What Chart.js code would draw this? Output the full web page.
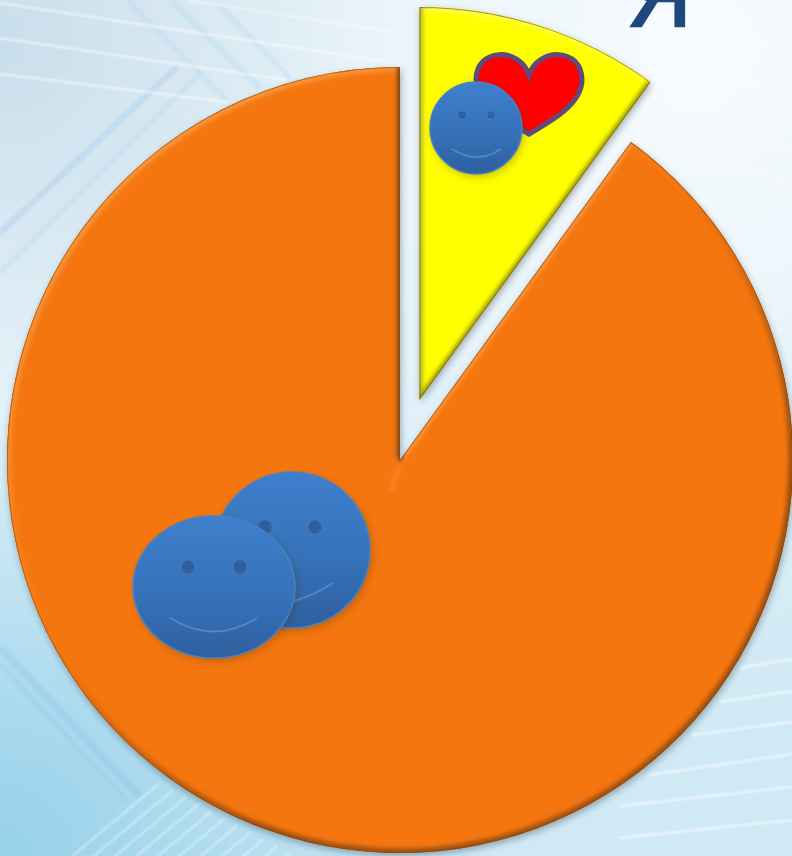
<!DOCTYPE html>
<html>
<head>
<meta charset="utf-8">
<style>
  html, body { margin: 0; padding: 0; background: #e4f1f8; }
  #wrap { width: 792px; height: 856px; }
</style>
<script src="https://cdn.jsdelivr.net/npm/chart.js@4/dist/chart.umd.min.js"></script>
</head>
<body>
<div id="wrap"><canvas id="pieChart" width="792" height="856"></canvas></div>
<script>
const categories = ['Я', 'Другие'];
const shares = [10, 90];
const sliceColors = ['#ffff00', '#f5760f'];
const sliceOffsets = [252, 0]; // Chart.js moves an arc by offset / 4
const startEdges = ['#a8a83a', '#fb9a44'];
const endEdges = ['#8f8f10', '#7e4414'];
const rimTop = ['#ffff70', '#fba24c'];
const rimBottom = ['#9a9a10', '#9a4f12'];
const pieRadius = 393;

function line(ctx, x1, y1, x2, y2, color, width) {
  ctx.strokeStyle = color;
  ctx.lineWidth = width;
  ctx.beginPath();
  ctx.moveTo(x1, y1);
  ctx.lineTo(x2, y2);
  ctx.stroke();
}

function drawBackdrop(ctx) {
  const bg = ctx.createLinearGradient(0, 0, 200, 856);
  bg.addColorStop(0, '#e6f1f8');
  bg.addColorStop(0.5, '#e4f2f9');
  bg.addColorStop(1, '#cfe9f5');
  ctx.fillStyle = bg;
  ctx.fillRect(0, 0, 792, 856);

  const topRight = ctx.createRadialGradient(700, 50, 20, 700, 50, 420);
  topRight.addColorStop(0, 'rgba(246,251,254,1)');
  topRight.addColorStop(1, 'rgba(246,251,254,0)');
  ctx.fillStyle = topRight;
  ctx.fillRect(0, 0, 792, 856);

  const corner = ctx.createRadialGradient(0, 40, 10, 0, 40, 360);
  corner.addColorStop(0, 'rgba(200,222,235,0.95)');
  corner.addColorStop(1, 'rgba(200,222,235,0)');
  ctx.fillStyle = corner;
  ctx.fillRect(0, 0, 400, 420);

  const lowLeft = ctx.createRadialGradient(0, 856, 20, 0, 856, 460);
  lowLeft.addColorStop(0, 'rgba(152,210,234,1)');
  lowLeft.addColorStop(1, 'rgba(152,210,234,0)');
  ctx.fillStyle = lowLeft;
  ctx.fillRect(0, 400, 500, 456);

  ctx.save();
  ctx.filter = 'blur(1px)';
  const band = 'rgba(170,215,240,0.3)';
  line(ctx, 0, 233, 177, 67, 'rgba(165,205,238,0.4)', 6);
  line(ctx, 0, 273, 200, 73, band, 5);
  line(ctx, 127, 0, 227, 100, band, 4);
  line(ctx, 170, 0, 260, 88, band, 6);
  line(ctx, 217, 3, 290, 78, band, 5);
  line(ctx, 0, 647, 140, 797, 'rgba(135,190,232,0.28)', 8);
  line(ctx, 0, 664, 128, 802, 'rgba(135,190,232,0.2)', 5);

  // white streaks top left
  const white = 'rgba(255,255,255,0.65)';
  line(ctx, 0, 3, 390, 62, white, 1.8);
  line(ctx, 187, 0, 400, 33, 'rgba(255,255,255,0.5)', 1.8);
  line(ctx, 0, 38, 287, 80, white, 1.8);
  line(ctx, 0, 74, 227, 102, white, 1.8);

  // streaks on the right side
  const soft = 'rgba(255,255,255,0.4)';
  line(ctx, 650, 20, 792, 48, soft, 2);
  line(ctx, 660, 62, 792, 92, soft, 2);
  line(ctx, 665, 102, 792, 125, soft, 2);
  line(ctx, 670, 132, 792, 152, soft, 2);
  line(ctx, 690, 165, 792, 180, soft, 2);
  const solid = 'rgba(255,255,255,0.75)';
  line(ctx, 740, 668, 792, 659, solid, 1.8);
  line(ctx, 720, 702, 792, 691, solid, 1.8);
  line(ctx, 692, 735, 792, 722, solid, 1.8);
  line(ctx, 650, 775, 792, 754, solid, 1.8);
  line(ctx, 620, 806, 792, 787, solid, 1.8);
  line(ctx, 620, 838, 792, 820, solid, 1.8);

  // mesh at the bottom
  ctx.strokeStyle = 'rgba(255,255,255,0.7)';
  ctx.lineWidth = 1.3;
  for (let i = 0; i < 22; i++) {
    const startX = 160 + i * 13;
    const startY = 783 + i * 7;
    ctx.beginPath();
    ctx.moveTo(startX, startY);
    ctx.lineTo(startX - 96, startY + 80);
    ctx.stroke();
  }
  ctx.restore();
}

function arcPoints(arc, i) {
  const mid = (arc.startAngle + arc.endAngle) / 2;
  const shift = sliceOffsets[i] / 4;
  return { x: arc.x + Math.cos(mid) * shift, y: arc.y + Math.sin(mid) * shift };
}

function arcPath(ctx, arc, i) {
  const p = arcPoints(arc, i);
  ctx.beginPath();
  ctx.moveTo(p.x, p.y);
  ctx.arc(p.x, p.y, pieRadius, arc.startAngle, arc.endAngle);
  ctx.closePath();
}

function drawBevel(ctx, arc, i) {
  const p = arcPoints(arc, i);
  ctx.save();
  arcPath(ctx, arc, i);
  ctx.clip();

  // curved rim, light above and dark below
  const rim = ctx.createLinearGradient(100, 60, 620, 800);
  rim.addColorStop(0, rimTop[i]);
  rim.addColorStop(0.5, sliceColors[i]);
  rim.addColorStop(0.8, rimBottom[i]);
  ctx.filter = 'blur(2px)';
  ctx.strokeStyle = rim;
  ctx.lineWidth = 9;
  ctx.beginPath();
  ctx.arc(p.x, p.y, pieRadius, arc.startAngle, arc.endAngle);
  ctx.stroke();

  // the two straight sides
  line(ctx, p.x, p.y, p.x + Math.cos(arc.startAngle) * pieRadius, p.y + Math.sin(arc.startAngle) * pieRadius, startEdges[i], 6);
  line(ctx, p.x, p.y, p.x + Math.cos(arc.endAngle) * pieRadius, p.y + Math.sin(arc.endAngle) * pieRadius, endEdges[i], 6);

  ctx.filter = 'blur(0.6px)';
  ctx.strokeStyle = 'rgba(110,70,20,0.6)';
  ctx.lineWidth = 1.6;
  arcPath(ctx, arc, i);
  ctx.stroke();
  ctx.restore();
}

function drawFace(ctx, face) {
  ctx.save();
  ctx.filter = 'blur(0.5px)';
  ctx.shadowColor = 'rgba(70,50,0,0.3)';
  ctx.shadowBlur = 9;
  ctx.shadowOffsetY = 3;
  ctx.shadowOffsetX = 2;
  const fill = ctx.createLinearGradient(0, face.y - face.ry, 0, face.y + face.ry);
  fill.addColorStop(0, '#3f7fcc');
  fill.addColorStop(0.55, '#3672ba');
  fill.addColorStop(1, '#2f5f9f');
  ctx.fillStyle = fill;
  ctx.beginPath();
  ctx.ellipse(face.x, face.y, face.rx, face.ry, 0, 0, Math.PI * 2);
  ctx.fill();
  ctx.shadowColor = 'transparent';

  ctx.strokeStyle = '#4a80c4';
  ctx.lineWidth = 1.5;
  ctx.stroke();

  ctx.fillStyle = '#30609f';
  ctx.strokeStyle = '#4279bd';
  ctx.lineWidth = 1.5;
  face.eyes.forEach(eye => {
    ctx.beginPath();
    ctx.arc(eye[0], eye[1], face.eyeR, 0, Math.PI * 2);
    ctx.fill();
    ctx.stroke();
  });

  ctx.strokeStyle = '#5187c8';
  ctx.lineWidth = 2;
  ctx.beginPath();
  ctx.moveTo(face.smile[0], face.smile[1]);
  ctx.quadraticCurveTo(face.smile[2], face.smile[3], face.smile[4], face.smile[5]);
  ctx.stroke();
  ctx.restore();
}

function drawHeart(ctx) {
  ctx.beginPath();
  ctx.moveTo(529, 75);
  ctx.bezierCurveTo(520, 47, 476, 47, 476, 80);
  ctx.bezierCurveTo(476, 105, 510, 123, 529, 134);
  ctx.bezierCurveTo(548, 123, 582, 105, 582, 80);
  ctx.bezierCurveTo(582, 47, 538, 47, 529, 75);
  ctx.closePath();
  ctx.fillStyle = '#ff0000';
  ctx.fill();
  ctx.strokeStyle = '#604a7b';
  ctx.lineWidth = 5;
  ctx.stroke();
}

const backdropPlugin = {
  id: 'backdrop',
  afterDatasetsUpdate(chart) {
    // Chart.js adds part of the offset to the radius, take it back so both slices keep the same size
    chart.getDatasetMeta(0).data.forEach((arc, i) => {
      const fix = 1 - Math.sin(Math.min(Math.PI, arc.circumference));
      arc.outerRadius = pieRadius - (sliceOffsets[i] / 4) * fix;
    });
  },
  beforeDraw(chart) {
    drawBackdrop(chart.ctx);
  },
  beforeDatasetsDraw(chart) {
    const ctx = chart.ctx;
    ctx.save();
    ctx.shadowColor = 'rgba(40,60,80,0.4)';
    ctx.shadowBlur = 7;
    ctx.shadowOffsetX = 1;
    ctx.shadowOffsetY = 3;
    chart.getDatasetMeta(0).data.forEach((arc, i) => {
      arcPath(ctx, arc, i);
      ctx.fillStyle = sliceColors[i];
      ctx.fill();
    });
    ctx.restore();
  },
  afterDatasetsDraw(chart) {
    const ctx = chart.ctx;
    chart.getDatasetMeta(0).data.forEach((arc, i) => drawBevel(ctx, arc, i));

    // small crease below the notch
    ctx.save();
    ctx.filter = 'blur(2px)';
    line(ctx, 400, 464, 391, 492, 'rgba(251,154,68,0.6)', 3);
    ctx.restore();

    drawHeart(ctx);
    drawFace(ctx, { x: 476, y: 128, rx: 46, ry: 46, eyeR: 4.5, eyes: [[462, 115], [491, 115]], smile: [452, 149, 477, 165, 501, 149] });
    drawFace(ctx, { x: 292, y: 550, rx: 78, ry: 78, eyeR: 7.5, eyes: [[265, 527], [315, 527]], smile: [250, 605, 295, 608, 333, 583] });
    drawFace(ctx, { x: 214, y: 587, rx: 81, ry: 71, eyeR: 7.5, eyes: [[188, 567], [240, 567]], smile: [170, 618, 214, 645, 257, 618] });

    ctx.fillStyle = '#1f497d';
    ctx.strokeStyle = '#1f497d';
    ctx.lineWidth = 2.5;
    ctx.font = '88px "Liberation Sans"';
    ctx.textAlign = 'right';
    ctx.textBaseline = 'alphabetic';
    ctx.fillText('Я', 691, 26);
    ctx.strokeText('Я', 691, 26);
  }
};

window.onload = () => {
  const ctx = document.getElementById('pieChart').getContext('2d');
  new Chart(ctx, {
    type: 'pie',
    data: {
      labels: categories,
      datasets: [{
        data: shares,
        backgroundColor: sliceColors,
        offset: sliceOffsets,
        borderWidth: 0
      }]
    },
    options: {
      responsive: false,
      animation: false,
      radius: pieRadius,
      layout: { padding: { left: 8, top: 64 } },
      plugins: {
        legend: { display: false },
        tooltip: { enabled: false }
      }
    },
    plugins: [backdropPlugin]
  });
};
</script>
</body>
</html>
